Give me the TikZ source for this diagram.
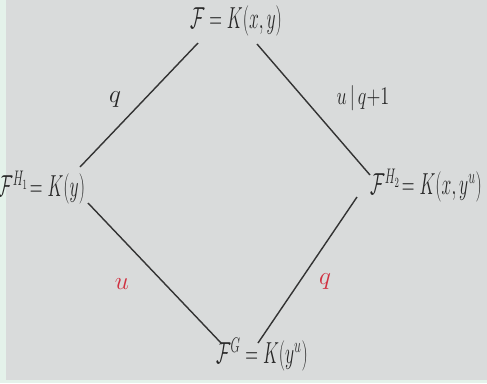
\documentclass[tikz,border=0pt]{standalone}
\usepackage{amsmath}
\begin{document}
\begin{tikzpicture}[x=0.02cm,y=-0.02cm,
  field/.style={inner sep=0pt, font=\fontsize{17}{19}\selectfont, text=black!85},
  deg/.style={inner sep=0pt, font=\fontsize{14}{16}\selectfont, text=black!85},
  reddeg/.style={deg, text=redink},
  edge/.style={draw=black!80, line width=0.8pt}]
\definecolor{paper}{HTML}{D9DBDB}
\definecolor{strip}{HTML}{E4F2EA}
\definecolor{redink}{HTML}{D03040}
\newcommand{\narrow}[1]{\scalebox{0.58}[1]{#1}}
\fill[strip] (0,0) rectangle (487,383);
\fill[paper] (6,0) rectangle (487,380);
\useasboundingbox (0,0) rectangle (487,383);
% fields
\node[field] (top) at (236,21) {\narrow{$\mathcal{F}=K(x,y)$}};
\node[field, anchor=west] (left) at (-2,188) {\narrow{$\mathcal{F}^{H_1}\!=K(y)$}};
\node[field, anchor=west] (right) at (370,186) {\narrow{$\mathcal{F}^{H_2}\!=K(x,y^u)$}};
\node[field] (bot) at (262,355) {\narrow{$\mathcal{F}^{G}=K(y^u)$}};
% connector endpoints
\coordinate (tl) at (198,43);
\coordinate (lt) at (80,167);
\coordinate (tr) at (257,44);
\coordinate (rt) at (370,175);
\coordinate (lb) at (88,203);
\coordinate (bl) at (222,344);
\coordinate (rb) at (357,197);
\coordinate (br) at (258,343);
\draw[edge] (tl) -- (lt);
\draw[edge] (tr) -- (rt);
\draw[edge] (lb) -- (bl);
\draw[edge] (rb) -- (br);
% degree labels
\node[deg] (q1) at (115,100) {$q$};
\node[deg] (uq) at (363,98) {\scalebox{0.72}[1]{$u\,|\,q{+}1$}};
\node[reddeg] (u2) at (122,284) {$u$};
\node[reddeg] (q2) at (325,282) {$q$};
\end{tikzpicture}
\end{document}
